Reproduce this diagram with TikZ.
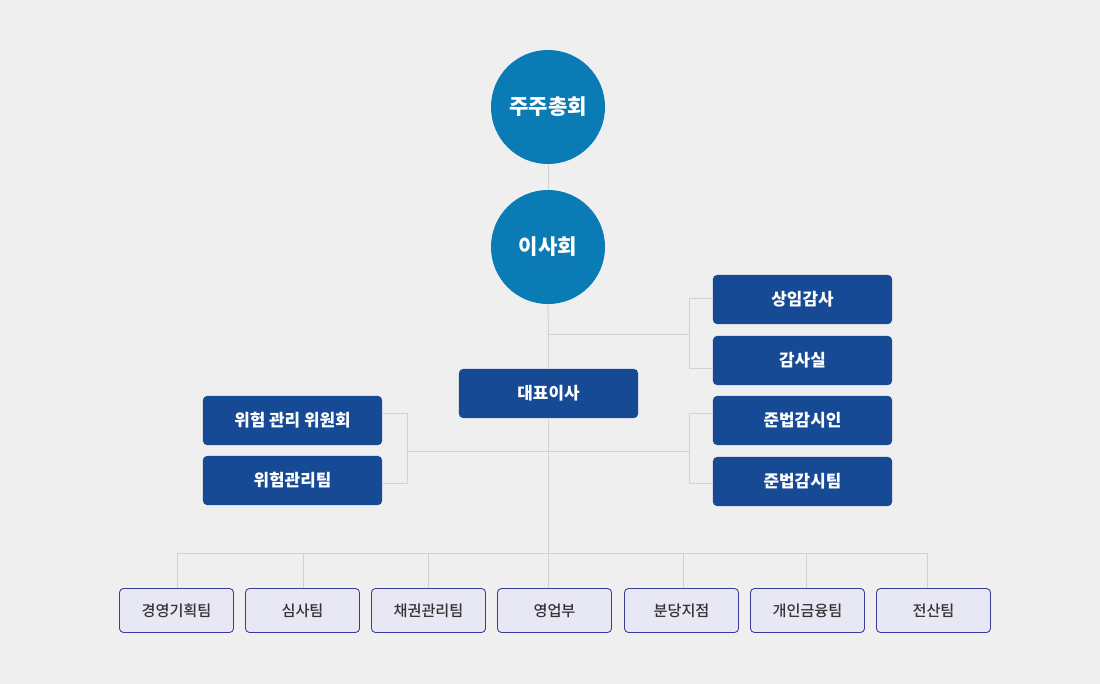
\documentclass[tikz,border=0pt]{standalone}
\usepackage{fontspec}
\newfontfamily\krfont{Noto Sans CJK KR}
\newfontfamily\krmedium{Noto Sans CJK KR Medium}
\usetikzlibrary{positioning}
\definecolor{bgGray}{HTML}{EFEFEF}
\definecolor{circleBlue}{HTML}{0B7BB5}
\definecolor{boxBlue}{HTML}{174A94}
\definecolor{teamFill}{HTML}{E8E8F4}
\definecolor{teamEdge}{HTML}{3A3A9A}
\definecolor{teamText}{HTML}{333333}
\definecolor{wireGray}{HTML}{D2D2D2}
\tikzset{
	meet/.style={circle, fill=circleBlue, minimum size=2.85cm, inner sep=0pt, text=white, font=\krfont\bfseries\fontsize{15}{17}\selectfont},
	office/.style={rectangle, rounded corners=0.1cm, fill=boxBlue, minimum width=4.475cm, minimum height=1.225cm, inner sep=0pt, text=white, font=\krfont\bfseries\fontsize{12}{14}\selectfont},
	team/.style={rectangle, rounded corners=0.1cm, draw=teamEdge, line width=0.6pt, fill=teamFill, minimum width=2.85cm, minimum height=1.1cm, inner sep=0pt, text=teamText, font=\krmedium\fontsize{10.8}{13}\selectfont},
	wire/.style={draw=wireGray, line width=0.7pt}
}

\begin{document}
\begin{tikzpicture}[x=0.025cm, y=-0.025cm]
	\fill[bgGray] (0,0) rectangle (1100,684);
	\useasboundingbox (0,0) rectangle (1100,684);
	\node[meet] (gm) at (548,107) {주주총회};
	\node[meet] (board) at (548,247) {이사회};
	\node[office] (ceo) at (548.5,393.5) {대표이사};
	\node[office] (audit1) at (802.5,299.5) {상임감사};
	\node[office] (audit2) at (802.5,360.5) {감사실};
	\node[office] (comp1) at (802.5,420.5) {준법감시인};
	\node[office] (comp2) at (802.5,481.5) {준법감시팀};
	\node[office] (risk1) at (292.5,420.5) {위험 관리 위원회};
	\node[office] (risk2) at (292.5,480.5) {위험관리팀};
	\foreach \x/\n/\t in {176.5/t1/경영기획팀, 302.5/t2/심사팀, 428.5/t3/채권관리팀, 554.5/t4/영업부, 681.5/t5/분당지점, 807.5/t6/개인금융팀, 933.5/t7/전산팀}
		\node[team] (\n) at (\x,610.5) {\t};
	\coordinate (aJoin) at (548,334);
	\coordinate (aTop) at (689,298);
	\coordinate (aBot) at (689,368);
	\coordinate (cJoin) at (548,451);
	\coordinate (cTop) at (689,413);
	\coordinate (cBot) at (689,483);
	\coordinate (rTop) at (407,413);
	\coordinate (rBot) at (407,483);
	\coordinate (busL) at (177,553);
	\coordinate (busR) at (927,553);
	\draw[wire] (gm) -- (board);
	\draw[wire] (board) -- (ceo);
	\draw[wire] (ceo.south) -- (ceo.south |- t4.north);
	\draw[wire] (aJoin) -- (aJoin -| aTop);
	\draw[wire] (aTop -| audit1.west) -- (aTop) -- (aBot) -- (aBot -| audit2.west);
	\draw[wire] (cJoin -| rTop) -- (cJoin -| cTop);
	\draw[wire] (cTop -| comp1.west) -- (cTop) -- (cBot) -- (cBot -| comp2.west);
	\draw[wire] (rTop -| risk1.east) -- (rTop) -- (rBot) -- (rBot -| risk2.east);
	\draw[wire] (busL) -- (busR);
	\foreach \x/\n in {177/t1, 303/t2, 428/t3, 683/t5, 806/t6, 927/t7}
		\draw[wire] (\x,553) -- (\x,553 |- \n.north);
\end{tikzpicture}
\end{document}
